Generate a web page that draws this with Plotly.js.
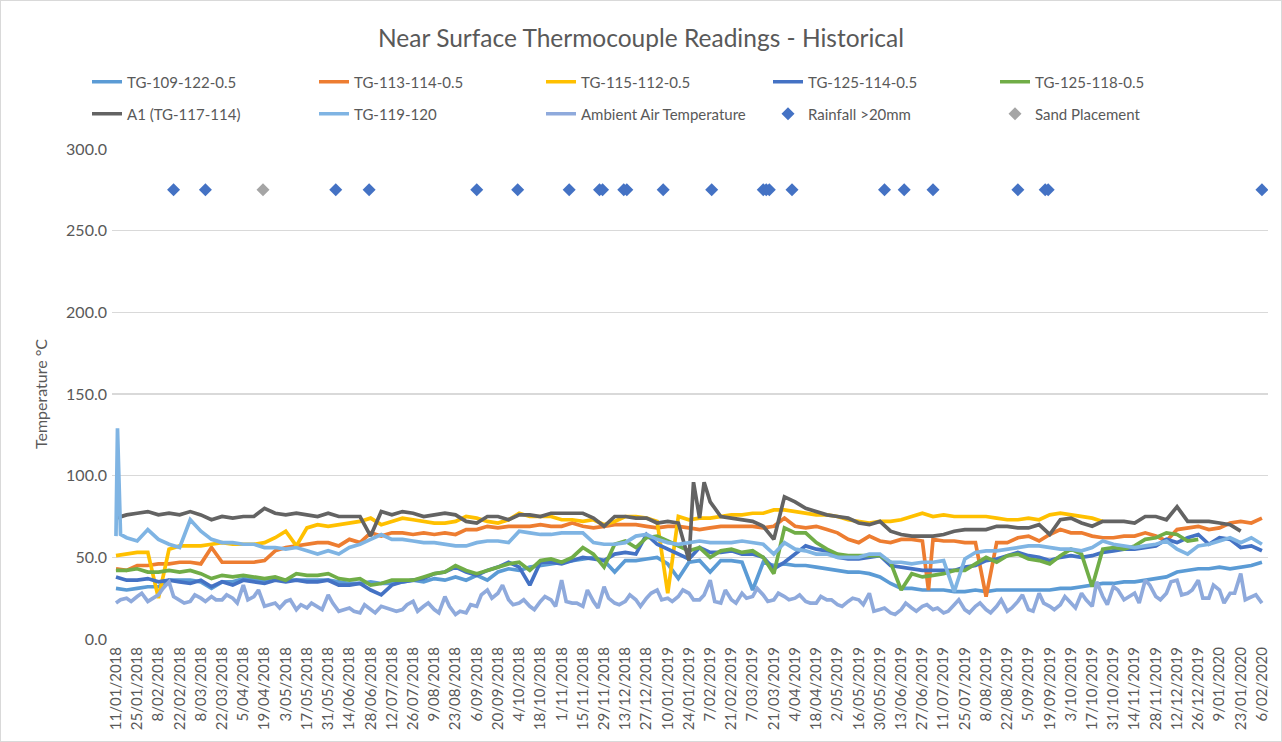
<!DOCTYPE html>
<html><head><meta charset="utf-8">
<script src="https://cdn.plot.ly/plotly-3.0.1.min.js"></script>
<style>html,body{margin:0;padding:0;background:#fff}#chart{width:1282px;height:742px}
#frame{position:absolute;left:0;top:0;width:1280px;height:740px;border:1px solid #d9d9d9;pointer-events:none}</style>
</head><body><div id="chart"></div><div id="frame"></div>
<script>
const dates = ['2018-01-11','2018-01-18','2018-01-25','2018-02-01','2018-02-08','2018-02-15','2018-02-22','2018-03-01','2018-03-08','2018-03-15',
'2018-03-22','2018-03-29','2018-04-05','2018-04-12','2018-04-19','2018-04-26','2018-05-03','2018-05-10','2018-05-17','2018-05-24',
'2018-05-31','2018-06-07','2018-06-14','2018-06-21','2018-06-28','2018-07-05','2018-07-12','2018-07-19','2018-07-26','2018-08-02',
'2018-08-09','2018-08-16','2018-08-23','2018-08-30','2018-09-06','2018-09-13','2018-09-20','2018-09-27','2018-10-04','2018-10-11',
'2018-10-18','2018-10-25','2018-11-01','2018-11-08','2018-11-15','2018-11-22','2018-11-29','2018-12-06','2018-12-13','2018-12-20',
'2018-12-27','2019-01-03','2019-01-10','2019-01-17','2019-01-24','2019-01-31','2019-02-07','2019-02-14','2019-02-21','2019-02-28',
'2019-03-07','2019-03-14','2019-03-21','2019-03-28','2019-04-04','2019-04-11','2019-04-18','2019-04-25','2019-05-02','2019-05-09',
'2019-05-16','2019-05-23','2019-05-30','2019-06-06','2019-06-13','2019-06-20','2019-06-27','2019-07-04','2019-07-11','2019-07-18',
'2019-07-25','2019-08-01','2019-08-08','2019-08-15','2019-08-22','2019-08-29','2019-09-05','2019-09-12','2019-09-19','2019-09-26',
'2019-10-03','2019-10-10','2019-10-17','2019-10-24','2019-10-31','2019-11-07','2019-11-14','2019-11-21','2019-11-28','2019-12-05',
'2019-12-12','2019-12-19','2019-12-26','2020-01-02','2020-01-09','2020-01-16','2020-01-23','2020-01-30','2020-02-06'];

const tg109_122 = [31,30,31,32,32,36,36,36,35,31, 35,35,37,36,36,36,36,36,36,36, 36,35,34,34,35,34,34,35,36,35,
 37,36,38,36,39,36,41,43,42,44, 45,46,47,48,49,50,48,41,48,48, 49,50,46,37,47,48,41,48,48,47,
 30,47,45,46,45,45,44,43,42,41, 41,40,38,34,31,31,30,30,30,29, 29,30,29,30,30,30,30,30,30,31,
 31,32,33,34,34,35,35,36,37,38, 41,42,43,43,44,43,44,45,47];
const tg113_114 = [43,42,45,45,46,46,47,47,46,56, 47,47,47,47,48,54,56,57,58,59, 59,57,61,59,65,63,65,65,64,65,
 64,65,64,67,67,69,68,69,69,69, 70,69,69,71,69,68,69,70,70,70, 69,68,69,69,68,67,68,69,69,69,
 69,68,69,74,69,68,69,67,65,61, 59,63,60,59,61,61,60,61,60,60, 59,59,26,59,59,62,63,60,64,67,
 65,65,63,62,62,63,63,65,63,60, 67,68,69,67,68,71,72,71,74];
const tg115_112 = [51,52,53,53,25,55,57,57,57,58, 59,58,58,58,59,62,66,57,68,70, 69,70,71,72,74,70,72,74,73,72,
 71,71,72,75,74,72,71,73,77,75, 75,75,73,73,72,73,70,72,75,75, 74,72,28,75,73,74,74,75,76,76,
 77,77,79,79,78,77,76,76,75,73, 72,71,72,72,73,75,77,75,76,75, 75,75,75,74,73,73,74,73,76,77,
 76,75,74,72,null,null,null,null,null,null, null,null,null,null,null,null,null,null,null];
const tg125_114 = [38,36,36,37,35,36,35,34,36,32, 35,33,36,35,34,36,35,36,35,35, 36,33,33,34,30,27,33,35,36,37,
 40,41,44,41,39,42,44,47,44,33, 47,47,46,48,50,49,48,52,53,52, 64,58,55,52,49,56,53,53,54,52,
 52,50,43,47,52,57,55,54,50,49, 49,50,51,45,44,43,42,42,42,42, 44,45,48,49,51,53,51,50,48,50,
 51,50,51,53,54,55,55,56,57,61, 59,62,64,58,62,61,56,57,54];
const tg125_118 = [42,42,43,41,41,42,41,42,40,37, 39,38,39,38,37,38,36,40,39,39, 40,37,36,37,33,34,36,36,36,38,
 40,41,45,42,40,42,44,46,47,42, 48,49,47,50,56,52,44,58,60,56, 62,63,60,57,54,56,50,54,55,53,
 54,50,40,68,65,65,59,55,52,51, 51,51,51,47,30,40,38,39,40,42, 42,46,50,47,51,52,49,48,46,51,
 55,52,32,55,56,55,57,61,62,65, 64,60,61,null,null,null,null,null,null];
const a1_117_114 = [74,76,77,78,76,77,76,78,76,73, 75,74,75,75,80,77,76,77,76,75, 77,75,75,75,63,78,76,78,77,75,
 76,77,76,72,71,75,75,73,76,76, 75,77,77,77,77,74,69,75,75,74, 74,71,72,71,48,74,84,75,74,73,
 72,69,61,87,84,80,78,76,75,74, 71,70,72,66,64,63,63,63,64,66, 67,67,67,69,69,68,68,70,64,73,
 74,71,69,72,72,72,71,75,75,73, 81,72,72,72,71,70,66,null,null];
const tg119_120 = [63,62,60,67,61,58,56,73,66,61, 59,59,58,58,56,56,55,56,54,52, 54,52,56,58,61,64,61,61,60,59,
 59,58,57,57,59,60,60,59,66,65, 64,64,65,65,65,59,58,58,59,63, 64,61,59,58,59,60,59,59,59,60,
 59,58,52,59,55,54,52,52,50,50, 50,52,52,47,47,46,47,47,48,29, 49,53,54,54,55,56,57,57,56,55,
 55,54,56,60,58,57,56,57,58,60, 55,52,57,58,60,62,59,62,58];
const ambient = [22,25,26,23,27,35,24,23,25,26, 24,25,33,26,20,22,23,18,19,20, 27,17,19,16,18,20,18,18,23,20,
 18,26,15,16,20,30,28,24,22,20, 23,24,36,22,20,23,32,22,23,24, 25,30,25,26,28,24,36,22,24,28,
 26,27,24,26,25,23,22,24,21,23, 24,28,18,16,18,19,20,18,16,21, 18,20,18,20,17,23,18,28,20,21,
 22,28,20,26,32,24,28,36,26,28, 36,28,36,25,30,28,40,26,22];
// ambient readings taken mid-week (3 days after each weekly date)
const ambientMid = [24,23,28,25,31,26,22,27,23,24,27,22,24,30,21,19,24,21,22,18,22,18,17,21,16,19,17,
 21,17,22,16,20,17,21,27,25,33,21,24,18,26,20,23,22,30,19,25,21,27,20,28,24,23,30,
 24,27,23,30,22,25,31,23,28,24,27,22,26,24,20,25,21,17,19,15,22,17,21,19,17,24,16,
 22,16,24,19,27,17,22,18,26,19,24,35,21,30,26,22,33,24,35,27,30,25,33,22,28,24,27];

// readings taken between the weekly dates
const a1ExtraDates = ['2019-01-27','2019-02-03'];
const a1ExtraVals = [96, 96];
const tg119ExtraDates = ['2018-01-12','2018-01-14'];
const tg119ExtraVals = [129, 64];
const tg113ExtraDates = ['2019-07-01'];
const tg113ExtraVals = [30];

const rainDates = ['2018-02-18','2018-03-11','2018-06-05','2018-06-27','2018-09-06','2018-10-03','2018-11-06','2018-11-26',
 '2018-11-28','2018-12-12','2018-12-14','2019-01-07','2019-02-08','2019-03-14','2019-03-16','2019-03-18','2019-04-02',
 '2019-06-02','2019-06-15','2019-07-04','2019-08-29','2019-09-16','2019-09-18','2020-02-06'];
const rainVals = rainDates.map(() => 275);
const sandDates = ['2018-04-18'];
const sandVals = [275];

const tickDates = dates.filter((d, i) => i % 2 === 0);

function addDays(s, n) {
  const t = new Date(s + 'T00:00:00Z'); t.setUTCDate(t.getUTCDate() + n);
  return t.toISOString().slice(0, 10);
}
const ambientMidDates = dates.slice(0, ambientMid.length).map(d => addDays(d, 3));

function merge(xs, ys, ex, ey) {
  const pts = xs.map((x, i) => [x, ys[i]]).concat(ex.map((x, i) => [x, ey[i]]));
  pts.sort((a, b) => a[0] < b[0] ? -1 : a[0] > b[0] ? 1 : 0);
  return {x: pts.map(p => p[0]), y: pts.map(p => p[1])};
}

const FONT = 'Lato, "Liberation Sans", sans-serif';
function line(name, xy, color, legend) {
  return {type: 'scatter', mode: 'lines', name: name, x: xy.x, y: xy.y, connectgaps: false,
    line: {color: color, width: 3.7, shape: 'linear'}, legend: legend, hoverinfo: 'x+y+name'};
}
const plain = (ys) => ({x: dates, y: ys});

const traces = [
  line('TG-109-122-0.5', plain(tg109_122), '#5B9BD5', 'legend'),
  line('TG-113-114-0.5', merge(dates, tg113_114, tg113ExtraDates, tg113ExtraVals), '#ED7D31', 'legend'),
  line('TG-115-112-0.5', plain(tg115_112), '#FFC000', 'legend'),
  line('TG-125-114-0.5', plain(tg125_114), '#4472C4', 'legend'),
  line('TG-125-118-0.5', plain(tg125_118), '#70AD47', 'legend'),
  line('A1 (TG-117-114)', merge(dates, a1_117_114, a1ExtraDates, a1ExtraVals), '#636363', 'legend2'),
  line('TG-119-120', merge(dates, tg119_120, tg119ExtraDates, tg119ExtraVals), '#7FB4E3', 'legend2'),
  line('Ambient Air Temperature', merge(dates, ambient, ambientMidDates, ambientMid), '#8FAADC', 'legend2'),
  {type: 'scatter', mode: 'markers', name: 'Rainfall >20mm', x: rainDates, y: rainVals, legend: 'legend2',
   marker: {symbol: 'diamond', size: 10, color: '#4472C4'}},
  {type: 'scatter', mode: 'markers', name: 'Sand Placement', x: sandDates, y: sandVals, legend: 'legend2',
   marker: {symbol: 'diamond', size: 10, color: '#A5A5A5'}}
];

const legendCommon = {orientation: 'h', xref: 'container', yref: 'container', xanchor: 'left', yanchor: 'middle',
  entrywidth: 182, entrywidthmode: 'pixels', font: {family: FONT, size: 15, color: '#595959'},
  bgcolor: 'rgba(0,0,0,0)', itemclick: false, itemdoubleclick: false, traceorder: 'normal'};

const layout = {
  width: 1282, height: 742,
  paper_bgcolor: '#ffffff', plot_bgcolor: '#ffffff',
  margin: {l: 112, r: 14, t: 149, b: 103},
  font: {family: FONT, color: '#595959'},
  title: {text: 'Near Surface Thermocouple Readings - Historical', font: {family: FONT, size: 24.5, color: '#595959'},
    x: 0.5, xref: 'container', y: 1 - 38/742, yref: 'container', yanchor: 'middle'},
  showlegend: true,
  legend: Object.assign({}, legendCommon, {x: 87/1282, y: 1 - 82/742}),
  legend2: Object.assign({}, legendCommon, {x: 87/1282, y: 1 - 114/742}),
  xaxis: {type: 'date', range: ['2018-01-08 09:00', '2020-02-10'], tickvals: tickDates, tickformat: '%-d/%m/%Y',
    tickangle: -90, tickfont: {family: FONT, size: 15, color: '#595959'}, showgrid: false, zeroline: false,
    showline: false, ticks: '', ticklabelstandoff: 4},
  yaxis: {range: [0, 300], tickvals: [0, 50, 100, 150, 200, 250, 300], tickformat: '.1f',
    tickfont: {family: FONT, size: 16, color: '#595959'}, showgrid: true, gridcolor: '#d9d9d9', gridwidth: 1.3,
    zeroline: false, showline: false, ticks: '', ticklabelstandoff: 4,
    title: {text: 'Temperature °C', font: {family: FONT, size: 16, color: '#595959'}, standoff: 14}}
};

Plotly.newPlot('chart', traces, layout, {displayModeBar: false, staticPlot: true});
</script></body></html>
